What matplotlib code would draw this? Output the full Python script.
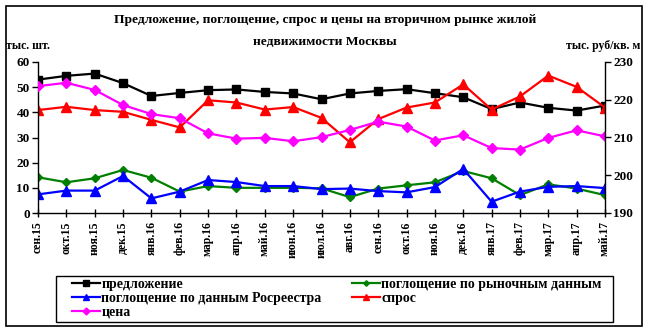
import matplotlib
matplotlib.use('Agg')
import matplotlib.pyplot as plt
from matplotlib.patches import Rectangle

plt.rcParams['font.family'] = ['Liberation Serif', 'DejaVu Serif']
plt.rcParams['font.weight'] = 'bold'

months = ['сен.15', 'окт.15', 'ноя.15', 'дек.15', 'янв.16', 'фев.16', 'мар.16',
          'апр.16', 'май.16', 'июн.16', 'июл.16', 'авг.16', 'сен.16', 'окт.16',
          'ноя.16', 'дек.16', 'янв.17', 'фев.17', 'мар.17', 'апр.17', 'май.17']

# тыс. шт.
supply = [53.0, 54.5, 55.4, 51.6, 46.5, 47.7, 48.8, 49.1, 48.1, 47.5, 45.2,
          47.5, 48.5, 49.2, 47.6, 46.0, 41.3, 43.9, 41.8, 40.7, 42.7]
absorb_market = [14.2, 12.2, 13.8, 17.1, 14.0, 8.5, 10.7, 10.0, 10.0, 10.0, 9.8,
                 6.3, 9.7, 11.0, 12.2, 16.7, 13.8, 7.1, 11.4, 9.7, 7.1]
absorb_rosreestr = [7.4, 8.9, 8.9, 14.7, 5.8, 8.5, 13.1, 12.3, 10.7, 10.7, 9.5,
                    9.7, 8.7, 8.2, 10.3, 17.5, 4.5, 8.5, 10.4, 10.7, 9.9]
demand = [40.9, 42.2, 40.9, 40.2, 37.0, 34.0, 44.8, 43.9, 41.1, 42.1, 37.8,
          28.1, 37.3, 41.9, 43.9, 51.1, 41.1, 46.3, 54.6, 50.1, 41.9]
# тыс. руб/кв. м
price = [223.6, 224.5, 222.6, 218.6, 216.2, 215.1, 211.1, 209.7, 209.9, 209.0, 210.1,
         212.0, 214.2, 212.9, 209.2, 210.6, 207.2, 206.8, 209.9, 211.9, 210.3]

fig = plt.figure(figsize=(6.49, 3.32), dpi=100)
ax = fig.add_axes([38 / 649, 1 - 213 / 332, (605 - 38) / 649, (213 - 62) / 332])
ax2 = ax.twinx()

x = range(len(months))
lw = 1.6
l_sup, = ax.plot(x, supply, color='black', lw=lw, marker='s', ms=5.5)
l_mkt, = ax.plot(x, absorb_market, color='#008000', lw=lw, marker='D', ms=4)
l_ros, = ax.plot(x, absorb_rosreestr, color='#0000FF', lw=lw, marker='^', ms=6.5)
l_dem, = ax.plot(x, demand, color='#FF0000', lw=lw, marker='^', ms=6.5)
l_prc, = ax2.plot(x, price, color='#FF00FF', lw=lw, marker='D', ms=5)

ax.set_xlim(0, len(months) - 1)
ax.set_ylim(0, 60)
ax.set_yticks(range(0, 61, 10))
ax2.set_ylim(190, 230)
ax2.set_yticks(range(190, 231, 10))
ax.set_xticks(list(x))
ax.set_xticklabels(months, rotation=90, fontsize=8.5, fontweight='bold')
ax.tick_params(axis='x', direction='inout', length=6, width=1, pad=3)
ax.tick_params(axis='y', direction='out', length=4, width=1, labelsize=9.5, pad=2)
ax2.tick_params(axis='y', direction='out', length=4, width=1, labelsize=9.5, pad=2)

for a in (ax, ax2):
    a.spines['top'].set_visible(False)
    for s in a.spines.values():
        s.set_linewidth(1)
ax.spines['right'].set_visible(False)
ax2.spines['left'].set_visible(False)
ax2.spines['bottom'].set_visible(False)

fig.text(325 / 649, 1 - 20 / 332, 'Предложение, поглощение, спрос и цены на вторичном рынке жилой',
         ha='center', va='center', fontsize=9.7, fontweight='bold')
fig.text(325 / 649, 1 - 42 / 332, 'недвижимости Москвы',
         ha='center', va='center', fontsize=9.7, fontweight='bold')
fig.text(6 / 649, 1 - 46 / 332, 'тыс. шт.', ha='left', va='center', fontsize=8.5)
fig.text(640 / 649, 1 - 46 / 332, 'тыс. руб/кв. м', ha='right', va='center', fontsize=8.5)

leg = fig.legend([l_sup, l_ros, l_prc, l_mkt, l_dem],
                 ['предложение', 'поглощение по данным Росреестра', 'цена',
                  'поглощение по рыночным данным', 'спрос'],
                 loc='upper left', ncol=2,
                 bbox_to_anchor=(72 / 649, 1 - 278 / 332),
                 borderaxespad=0, borderpad=0, frameon=False,
                 handlelength=2.0, handletextpad=0.1, labelspacing=0.05,
                 columnspacing=2.2, markerscale=0.7,
                 prop={'weight': 'bold', 'size': 10})

# рамки легенды и всей диаграммы
fig.patches.append(Rectangle((56 / 649, 1 - 322 / 332), 557 / 649, 46 / 332,
                             transform=fig.transFigure, fill=False,
                             edgecolor='black', linewidth=1))
fig.patches.append(Rectangle((6 / 649, 1 - 326 / 332), 636 / 649, 320 / 332,
                             transform=fig.transFigure, fill=False,
                             edgecolor='black', linewidth=1.2))

fig.savefig('out.png', dpi=100)
